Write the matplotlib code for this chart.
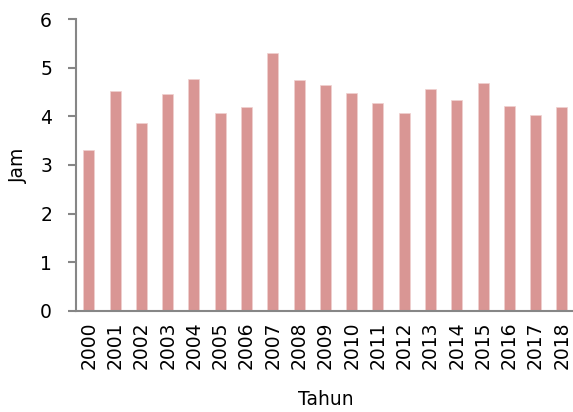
import matplotlib
matplotlib.use("Agg")
import matplotlib.pyplot as plt

# ------------------------------------------------------------------ data
years = [str(y) for y in range(2000, 2019)]
jam = [3.31, 4.53, 3.86, 4.47, 4.78, 4.07, 4.19, 5.31, 4.75, 4.64,
       4.48, 4.28, 4.08, 4.56, 4.34, 4.69, 4.22, 4.02, 4.20]
yticks = [0, 1, 2, 3, 4, 5, 6]

BAR = "#d99694"
AXC = "#868686"

plt.rcParams["font.family"] = ["DejaVu Sans"]

W, H = 573, 412
fig = plt.figure(figsize=(W / 100, H / 100), dpi=100)
ax = fig.add_axes([75.7 / W, 1 - 310.7 / H, (575 - 75.7) / W, (310.7 - 19.3) / H])

x = list(range(len(years)))
ax.bar(x, jam, width=0.42, color=BAR, edgecolor="#f0d0cf", linewidth=0.5, zorder=2)

ax.set_xlim(-0.5, len(years) - 0.5)
ax.set_ylim(0, 6)
ax.set_yticks(yticks)
ax.set_yticklabels([str(v) for v in yticks], fontsize=13.5)
ax.set_xticks(x)
ax.set_xticklabels(years, rotation=90, fontsize=13.5)
ax.tick_params(axis="x", length=0, pad=8)
ax.tick_params(axis="y", length=6, width=1.5, color=AXC, pad=11)

for side in ("top", "right"):
    ax.spines[side].set_visible(False)
for side in ("left", "bottom"):
    ax.spines[side].set_color(AXC)
    ax.spines[side].set_linewidth(1.5)

ax.set_ylabel("Jam", fontsize=13.5, labelpad=9)
ax.set_xlabel("Tahun", fontsize=13.5, labelpad=15)

fig.savefig("out.png", dpi=100)
